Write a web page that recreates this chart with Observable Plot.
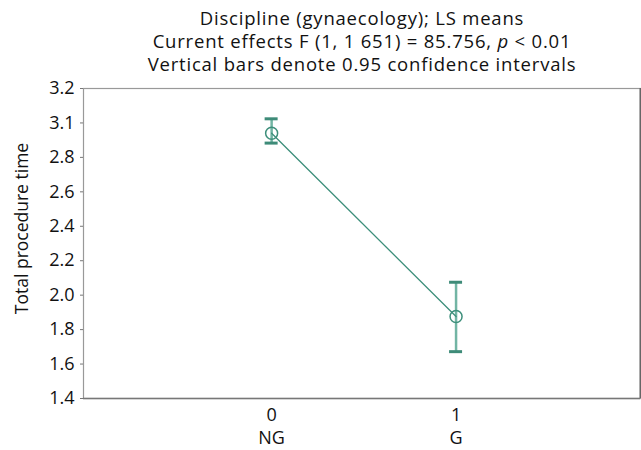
<!DOCTYPE html>
<html>
<head>
<meta charset="utf-8">
<script src="https://cdn.jsdelivr.net/npm/d3@7"></script>
<script src="https://cdn.jsdelivr.net/npm/@observablehq/plot@0.6"></script>
<style>
  body { margin: 0; background: #fff; font-family: "Open Sans", sans-serif; }
  #wrap { position: relative; width: 641px; height: 450px; }
  #title { position: absolute; left: 83px; top: 0; width: 558px; padding-top: 6px;
           text-align: center; font-size: 18.5px; letter-spacing: 0.8px; line-height: 23px; color: #111; }
</style>
</head>
<body>
<div id="wrap">
  <div id="chart"></div>
  <div id="title">
    <div>Discipline (gynaecology); LS means</div>
    <div>Current effects F (1, 1 651) = 85.756, <i>p</i> &lt; 0.01</div>
    <div>Vertical bars denote 0.95 confidence intervals</div>
  </div>
</div>
<script>
const groups = [0, 1];
const groupNames = ["NG", "G"];
const means = [2.94, 1.876];
const ciLow = [2.883, 1.672];
const ciHigh = [3.024, 2.075];
const yTicks = [1.4, 1.6, 1.8, 2.0, 2.2, 2.4, 2.6, 2.8, 3.0, 3.2];
const yTickLabels = ["1.4", "1.6", "1.8", "2.0", "2.2", "2.4", "2.6", "2.8", "3.1", "3.2"];

const data = groups.map((g, i) => ({x: g, name: groupNames[i], mean: means[i], lo: ciLow[i], hi: ciHigh[i]}));
const lineColor = "#3d8f7b";
const whiskerColor = "#72b5a4";
const capColor = "#3e8b78";

const chart = Plot.plot({
  width: 641,
  height: 450,
  marginLeft: 83,
  marginRight: 1,
  marginTop: 88,
  marginBottom: 52,
  style: {fontFamily: "Open Sans, sans-serif", fontSize: "18px", color: "#111", background: "#fff"},
  x: {domain: [-1.02, 2], axis: null},
  y: {domain: [1.4, 3.2]},
  marks: [
    Plot.frame({stroke: "#999", strokeWidth: 1.2}),
    Plot.ruleX([2], {stroke: "#666", strokeWidth: 2}),
    Plot.ruleY([1.4], {stroke: "#777", strokeWidth: 1.5}),
    Plot.axisY({ticks: yTicks, tickFormat: (d) => yTickLabels[yTicks.indexOf(d)], tickSize: 3, tickPadding: 6, stroke: "#777", fontSize: 18, label: null}),
    Plot.text(data, {x: "x", text: (d) => `${d.x}\n${d.name}`, frameAnchor: "bottom", lineAnchor: "top", dy: 7, lineHeight: 1.24, fontSize: 18, fill: "#111"}),
    Plot.text(["Total procedure time"], {frameAnchor: "left", textAnchor: "middle", dx: -61, dy: -15, rotate: -90, fontSize: 17.5, fill: "#111"}),
    Plot.ruleX(data, {x: "x", y1: "lo", y2: "hi", stroke: whiskerColor, strokeWidth: 2.5}),
    Plot.ruleY(data, {x1: "x", x2: "x", y: "hi", insetLeft: -6.5, insetRight: -6.5, stroke: capColor, strokeWidth: 3}),
    Plot.ruleY(data, {x1: "x", x2: "x", y: "lo", insetLeft: -6.5, insetRight: -6.5, stroke: capColor, strokeWidth: 3}),
    Plot.line(data, {x: "x", y: "mean", stroke: lineColor, strokeWidth: 1.3}),
    Plot.dot(data, {x: "x", y: "mean", r: 6, stroke: lineColor, strokeWidth: 1.5, fill: "none"})
  ]
});
document.getElementById("chart").appendChild(chart);
</script>
</body>
</html>
